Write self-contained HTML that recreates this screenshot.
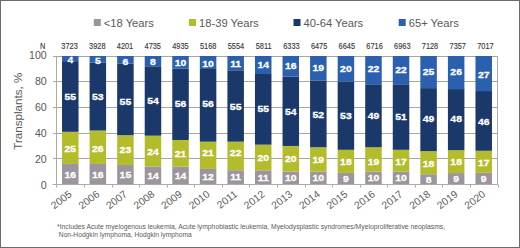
<!DOCTYPE html><html><head><meta charset="utf-8"><style>html,body{margin:0;padding:0;background:#fff;}svg{display:block;}text{font-family:"Liberation Sans",sans-serif;}</style></head><body>
<svg width="520" height="248" viewBox="0 0 520 248">
<rect x="0" y="0" width="520" height="248" fill="#fff"/>
<rect x="0.5" y="0.5" width="519" height="247" fill="none" stroke="#6b6b6b" stroke-width="1"/>
<rect x="93.8" y="19" width="7" height="7" fill="#9c959d"/>
<text x="103.8" y="26.7" font-size="11.2" fill="#595959">&lt;18 Years</text>
<rect x="189.0" y="19" width="7" height="7" fill="#b3bd2c"/>
<text x="199.0" y="26.7" font-size="11.2" fill="#595959">18-39 Years</text>
<rect x="293.5" y="19" width="7" height="7" fill="#1a386a"/>
<text x="303.5" y="26.7" font-size="11.2" fill="#595959">40-64 Years</text>
<rect x="398.7" y="19" width="7" height="7" fill="#2a60ad"/>
<text x="408.7" y="26.7" font-size="11.2" fill="#595959">65+ Years</text>
<line x1="56.5" x2="497.5" y1="158.5" y2="158.5" stroke="#a9a5a1" stroke-width="1"/>
<line x1="56.5" x2="497.5" y1="133.5" y2="133.5" stroke="#a9a5a1" stroke-width="1"/>
<line x1="56.5" x2="497.5" y1="107.5" y2="107.5" stroke="#a9a5a1" stroke-width="1"/>
<line x1="56.5" x2="497.5" y1="81.5" y2="81.5" stroke="#a9a5a1" stroke-width="1"/>
<line x1="56.5" x2="497.5" y1="56.5" y2="56.5" stroke="#a9a5a1" stroke-width="1"/>
<rect x="62.03" y="163.94" width="16.5" height="20.56" fill="#9c959d"/>
<rect x="62.03" y="131.81" width="16.5" height="32.12" fill="#b3bd2c"/>
<rect x="62.03" y="61.14" width="16.5" height="70.67" fill="#1a386a"/>
<rect x="62.03" y="56.00" width="16.5" height="5.14" fill="#2a60ad"/>
<rect x="89.59" y="163.94" width="16.5" height="20.56" fill="#9c959d"/>
<rect x="89.59" y="130.53" width="16.5" height="33.41" fill="#b3bd2c"/>
<rect x="89.59" y="62.43" width="16.5" height="68.10" fill="#1a386a"/>
<rect x="89.59" y="56.00" width="16.5" height="6.43" fill="#2a60ad"/>
<rect x="117.16" y="165.03" width="16.5" height="19.47" fill="#9c959d"/>
<rect x="117.16" y="135.18" width="16.5" height="29.85" fill="#b3bd2c"/>
<rect x="117.16" y="63.79" width="16.5" height="71.39" fill="#1a386a"/>
<rect x="117.16" y="56.00" width="16.5" height="7.79" fill="#2a60ad"/>
<rect x="144.72" y="166.51" width="16.5" height="17.99" fill="#9c959d"/>
<rect x="144.72" y="135.67" width="16.5" height="30.84" fill="#b3bd2c"/>
<rect x="144.72" y="66.28" width="16.5" height="69.39" fill="#1a386a"/>
<rect x="144.72" y="56.00" width="16.5" height="10.28" fill="#2a60ad"/>
<rect x="172.28" y="166.69" width="16.5" height="17.81" fill="#9c959d"/>
<rect x="172.28" y="139.97" width="16.5" height="26.72" fill="#b3bd2c"/>
<rect x="172.28" y="68.72" width="16.5" height="71.25" fill="#1a386a"/>
<rect x="172.28" y="56.00" width="16.5" height="12.72" fill="#2a60ad"/>
<rect x="199.84" y="168.92" width="16.5" height="15.58" fill="#9c959d"/>
<rect x="199.84" y="141.67" width="16.5" height="27.26" fill="#b3bd2c"/>
<rect x="199.84" y="68.98" width="16.5" height="72.69" fill="#1a386a"/>
<rect x="199.84" y="56.00" width="16.5" height="12.98" fill="#2a60ad"/>
<rect x="227.41" y="170.22" width="16.5" height="14.28" fill="#9c959d"/>
<rect x="227.41" y="141.67" width="16.5" height="28.56" fill="#b3bd2c"/>
<rect x="227.41" y="70.28" width="16.5" height="71.39" fill="#1a386a"/>
<rect x="227.41" y="56.00" width="16.5" height="14.28" fill="#2a60ad"/>
<rect x="254.97" y="170.37" width="16.5" height="14.13" fill="#9c959d"/>
<rect x="254.97" y="144.66" width="16.5" height="25.70" fill="#b3bd2c"/>
<rect x="254.97" y="73.99" width="16.5" height="70.67" fill="#1a386a"/>
<rect x="254.97" y="56.00" width="16.5" height="17.99" fill="#2a60ad"/>
<rect x="282.53" y="171.65" width="16.5" height="12.85" fill="#9c959d"/>
<rect x="282.53" y="145.95" width="16.5" height="25.70" fill="#b3bd2c"/>
<rect x="282.53" y="76.56" width="16.5" height="69.39" fill="#1a386a"/>
<rect x="282.53" y="56.00" width="16.5" height="20.56" fill="#2a60ad"/>
<rect x="310.09" y="171.65" width="16.5" height="12.85" fill="#9c959d"/>
<rect x="310.09" y="147.24" width="16.5" height="24.41" fill="#b3bd2c"/>
<rect x="310.09" y="80.41" width="16.5" height="66.82" fill="#1a386a"/>
<rect x="310.09" y="56.00" width="16.5" height="24.41" fill="#2a60ad"/>
<rect x="337.66" y="172.94" width="16.5" height="11.56" fill="#9c959d"/>
<rect x="337.66" y="149.81" width="16.5" height="23.13" fill="#b3bd2c"/>
<rect x="337.66" y="81.70" width="16.5" height="68.11" fill="#1a386a"/>
<rect x="337.66" y="56.00" width="16.5" height="25.70" fill="#2a60ad"/>
<rect x="365.22" y="171.65" width="16.5" height="12.85" fill="#9c959d"/>
<rect x="365.22" y="147.24" width="16.5" height="24.41" fill="#b3bd2c"/>
<rect x="365.22" y="84.27" width="16.5" height="62.97" fill="#1a386a"/>
<rect x="365.22" y="56.00" width="16.5" height="28.27" fill="#2a60ad"/>
<rect x="392.78" y="171.65" width="16.5" height="12.85" fill="#9c959d"/>
<rect x="392.78" y="149.81" width="16.5" height="21.84" fill="#b3bd2c"/>
<rect x="392.78" y="84.27" width="16.5" height="65.54" fill="#1a386a"/>
<rect x="392.78" y="56.00" width="16.5" height="28.27" fill="#2a60ad"/>
<rect x="420.34" y="174.22" width="16.5" height="10.28" fill="#9c959d"/>
<rect x="420.34" y="151.09" width="16.5" height="23.13" fill="#b3bd2c"/>
<rect x="420.34" y="88.12" width="16.5" height="62.97" fill="#1a386a"/>
<rect x="420.34" y="56.00" width="16.5" height="32.12" fill="#2a60ad"/>
<rect x="447.91" y="173.05" width="16.5" height="11.45" fill="#9c959d"/>
<rect x="447.91" y="150.15" width="16.5" height="22.90" fill="#b3bd2c"/>
<rect x="447.91" y="89.08" width="16.5" height="61.07" fill="#1a386a"/>
<rect x="447.91" y="56.00" width="16.5" height="33.08" fill="#2a60ad"/>
<rect x="475.47" y="172.82" width="16.5" height="11.68" fill="#9c959d"/>
<rect x="475.47" y="150.75" width="16.5" height="22.07" fill="#b3bd2c"/>
<rect x="475.47" y="91.05" width="16.5" height="59.71" fill="#1a386a"/>
<rect x="475.47" y="56.00" width="16.5" height="35.05" fill="#2a60ad"/>
<line x1="497.5" x2="497.5" y1="56.0" y2="184.5" stroke="#aeaaa7" stroke-width="1"/>
<line x1="52.5" x2="498.0" y1="184.5" y2="184.5" stroke="#aeaaa7" stroke-width="1"/>
<line x1="56.5" x2="56.5" y1="56.0" y2="187.5" stroke="#aeaaa7" stroke-width="1"/>
<line x1="53" x2="56.5" y1="184.5" y2="184.5" stroke="#aeaaa7" stroke-width="1"/>
<line x1="53" x2="56.5" y1="158.5" y2="158.5" stroke="#aeaaa7" stroke-width="1"/>
<line x1="53" x2="56.5" y1="133.5" y2="133.5" stroke="#aeaaa7" stroke-width="1"/>
<line x1="53" x2="56.5" y1="107.5" y2="107.5" stroke="#aeaaa7" stroke-width="1"/>
<line x1="53" x2="56.5" y1="81.5" y2="81.5" stroke="#aeaaa7" stroke-width="1"/>
<line x1="53" x2="56.5" y1="56.5" y2="56.5" stroke="#aeaaa7" stroke-width="1"/>
<line x1="84.5" x2="84.5" y1="184.5" y2="187.5" stroke="#aeaaa7" stroke-width="1"/>
<line x1="112.5" x2="112.5" y1="184.5" y2="187.5" stroke="#aeaaa7" stroke-width="1"/>
<line x1="139.5" x2="139.5" y1="184.5" y2="187.5" stroke="#aeaaa7" stroke-width="1"/>
<line x1="167.5" x2="167.5" y1="184.5" y2="187.5" stroke="#aeaaa7" stroke-width="1"/>
<line x1="194.5" x2="194.5" y1="184.5" y2="187.5" stroke="#aeaaa7" stroke-width="1"/>
<line x1="222.5" x2="222.5" y1="184.5" y2="187.5" stroke="#aeaaa7" stroke-width="1"/>
<line x1="249.5" x2="249.5" y1="184.5" y2="187.5" stroke="#aeaaa7" stroke-width="1"/>
<line x1="277.5" x2="277.5" y1="184.5" y2="187.5" stroke="#aeaaa7" stroke-width="1"/>
<line x1="305.5" x2="305.5" y1="184.5" y2="187.5" stroke="#aeaaa7" stroke-width="1"/>
<line x1="332.5" x2="332.5" y1="184.5" y2="187.5" stroke="#aeaaa7" stroke-width="1"/>
<line x1="360.5" x2="360.5" y1="184.5" y2="187.5" stroke="#aeaaa7" stroke-width="1"/>
<line x1="387.5" x2="387.5" y1="184.5" y2="187.5" stroke="#aeaaa7" stroke-width="1"/>
<line x1="415.5" x2="415.5" y1="184.5" y2="187.5" stroke="#aeaaa7" stroke-width="1"/>
<line x1="442.5" x2="442.5" y1="184.5" y2="187.5" stroke="#aeaaa7" stroke-width="1"/>
<line x1="470.5" x2="470.5" y1="184.5" y2="187.5" stroke="#aeaaa7" stroke-width="1"/>
<line x1="498.5" x2="498.5" y1="184.5" y2="187.5" stroke="#aeaaa7" stroke-width="1"/>
<text x="46.7" y="188.6" font-size="10.6" fill="#595959" text-anchor="end">0</text>
<text x="46.7" y="162.7" font-size="10.6" fill="#595959" text-anchor="end">20</text>
<text x="46.7" y="136.7" font-size="10.6" fill="#595959" text-anchor="end">40</text>
<text x="46.7" y="110.8" font-size="10.6" fill="#595959" text-anchor="end">60</text>
<text x="46.7" y="84.8" font-size="10.6" fill="#595959" text-anchor="end">80</text>
<text x="46.7" y="58.9" font-size="10.6" fill="#595959" text-anchor="end">100</text>
<text transform="translate(21.5,111.2) rotate(-90)" font-size="11.6" fill="#595959" text-anchor="middle">Transplants, %</text>
<text transform="translate(42.6,48.8) scale(0.77,1)" font-size="9.6" fill="#3a3a3a" stroke="#3a3a3a" stroke-width="0.15" text-anchor="middle">N</text>
<text transform="translate(69.55,48.8) scale(0.77,1)" font-size="9.6" fill="#3a3a3a" stroke="#3a3a3a" stroke-width="0.15" text-anchor="middle">3723</text>
<text transform="translate(97.28,48.8) scale(0.77,1)" font-size="9.6" fill="#3a3a3a" stroke="#3a3a3a" stroke-width="0.15" text-anchor="middle">3928</text>
<text transform="translate(125.00,48.8) scale(0.77,1)" font-size="9.6" fill="#3a3a3a" stroke="#3a3a3a" stroke-width="0.15" text-anchor="middle">4201</text>
<text transform="translate(152.73,48.8) scale(0.77,1)" font-size="9.6" fill="#3a3a3a" stroke="#3a3a3a" stroke-width="0.15" text-anchor="middle">4735</text>
<text transform="translate(180.46,48.8) scale(0.77,1)" font-size="9.6" fill="#3a3a3a" stroke="#3a3a3a" stroke-width="0.15" text-anchor="middle">4935</text>
<text transform="translate(208.19,48.8) scale(0.77,1)" font-size="9.6" fill="#3a3a3a" stroke="#3a3a3a" stroke-width="0.15" text-anchor="middle">5168</text>
<text transform="translate(235.91,48.8) scale(0.77,1)" font-size="9.6" fill="#3a3a3a" stroke="#3a3a3a" stroke-width="0.15" text-anchor="middle">5554</text>
<text transform="translate(263.64,48.8) scale(0.77,1)" font-size="9.6" fill="#3a3a3a" stroke="#3a3a3a" stroke-width="0.15" text-anchor="middle">5811</text>
<text transform="translate(291.37,48.8) scale(0.77,1)" font-size="9.6" fill="#3a3a3a" stroke="#3a3a3a" stroke-width="0.15" text-anchor="middle">6333</text>
<text transform="translate(319.09,48.8) scale(0.77,1)" font-size="9.6" fill="#3a3a3a" stroke="#3a3a3a" stroke-width="0.15" text-anchor="middle">6475</text>
<text transform="translate(346.82,48.8) scale(0.77,1)" font-size="9.6" fill="#3a3a3a" stroke="#3a3a3a" stroke-width="0.15" text-anchor="middle">6645</text>
<text transform="translate(374.55,48.8) scale(0.77,1)" font-size="9.6" fill="#3a3a3a" stroke="#3a3a3a" stroke-width="0.15" text-anchor="middle">6716</text>
<text transform="translate(402.27,48.8) scale(0.77,1)" font-size="9.6" fill="#3a3a3a" stroke="#3a3a3a" stroke-width="0.15" text-anchor="middle">6963</text>
<text transform="translate(430.00,48.8) scale(0.77,1)" font-size="9.6" fill="#3a3a3a" stroke="#3a3a3a" stroke-width="0.15" text-anchor="middle">7128</text>
<text transform="translate(457.73,48.8) scale(0.77,1)" font-size="9.6" fill="#3a3a3a" stroke="#3a3a3a" stroke-width="0.15" text-anchor="middle">7357</text>
<text transform="translate(485.46,48.8) scale(0.77,1)" font-size="9.6" fill="#3a3a3a" stroke="#3a3a3a" stroke-width="0.15" text-anchor="middle">7017</text>
<text transform="translate(70.28,177.82) scale(1.12,1)" font-size="9.3" font-weight="bold" fill="#fff" stroke="#fff" stroke-width="0.3" text-anchor="middle">16</text>
<text transform="translate(70.28,151.98) scale(1.12,1)" font-size="9.3" font-weight="bold" fill="#fff" stroke="#fff" stroke-width="0.3" text-anchor="middle">25</text>
<text transform="translate(70.28,100.08) scale(1.12,1)" font-size="9.3" font-weight="bold" fill="#fff" stroke="#fff" stroke-width="0.3" text-anchor="middle">55</text>
<text transform="translate(70.28,63.47) scale(1.12,1)" font-size="9.3" font-weight="bold" fill="#fff" stroke="#fff" stroke-width="0.3" text-anchor="middle">4</text>
<text transform="translate(97.84,177.82) scale(1.12,1)" font-size="9.3" font-weight="bold" fill="#fff" stroke="#fff" stroke-width="0.3" text-anchor="middle">16</text>
<text transform="translate(97.84,151.84) scale(1.12,1)" font-size="9.3" font-weight="bold" fill="#fff" stroke="#fff" stroke-width="0.3" text-anchor="middle">26</text>
<text transform="translate(97.84,100.08) scale(1.12,1)" font-size="9.3" font-weight="bold" fill="#fff" stroke="#fff" stroke-width="0.3" text-anchor="middle">53</text>
<text transform="translate(97.84,63.51) scale(1.12,1)" font-size="9.3" font-weight="bold" fill="#fff" stroke="#fff" stroke-width="0.3" text-anchor="middle">5</text>
<text transform="translate(125.41,178.37) scale(1.12,1)" font-size="9.3" font-weight="bold" fill="#fff" stroke="#fff" stroke-width="0.3" text-anchor="middle">15</text>
<text transform="translate(125.41,153.20) scale(1.12,1)" font-size="9.3" font-weight="bold" fill="#fff" stroke="#fff" stroke-width="0.3" text-anchor="middle">23</text>
<text transform="translate(125.41,104.98) scale(1.12,1)" font-size="9.3" font-weight="bold" fill="#fff" stroke="#fff" stroke-width="0.3" text-anchor="middle">55</text>
<text transform="translate(125.41,64.69) scale(1.12,1)" font-size="9.3" font-weight="bold" fill="#fff" stroke="#fff" stroke-width="0.3" text-anchor="middle">6</text>
<text transform="translate(152.97,179.10) scale(1.12,1)" font-size="9.3" font-weight="bold" fill="#fff" stroke="#fff" stroke-width="0.3" text-anchor="middle">14</text>
<text transform="translate(152.97,154.69) scale(1.12,1)" font-size="9.3" font-weight="bold" fill="#fff" stroke="#fff" stroke-width="0.3" text-anchor="middle">24</text>
<text transform="translate(152.97,104.07) scale(1.12,1)" font-size="9.3" font-weight="bold" fill="#fff" stroke="#fff" stroke-width="0.3" text-anchor="middle">54</text>
<text transform="translate(152.97,64.54) scale(1.12,1)" font-size="9.3" font-weight="bold" fill="#fff" stroke="#fff" stroke-width="0.3" text-anchor="middle">8</text>
<text transform="translate(180.53,178.69) scale(1.12,1)" font-size="9.3" font-weight="bold" fill="#fff" stroke="#fff" stroke-width="0.3" text-anchor="middle">14</text>
<text transform="translate(180.53,156.53) scale(1.12,1)" font-size="9.3" font-weight="bold" fill="#fff" stroke="#fff" stroke-width="0.3" text-anchor="middle">21</text>
<text transform="translate(180.53,106.55) scale(1.12,1)" font-size="9.3" font-weight="bold" fill="#fff" stroke="#fff" stroke-width="0.3" text-anchor="middle">56</text>
<text transform="translate(180.53,65.96) scale(1.12,1)" font-size="9.3" font-weight="bold" fill="#fff" stroke="#fff" stroke-width="0.3" text-anchor="middle">10</text>
<text transform="translate(208.09,179.81) scale(1.12,1)" font-size="9.3" font-weight="bold" fill="#fff" stroke="#fff" stroke-width="0.3" text-anchor="middle">12</text>
<text transform="translate(208.09,156.00) scale(1.12,1)" font-size="9.3" font-weight="bold" fill="#fff" stroke="#fff" stroke-width="0.3" text-anchor="middle">21</text>
<text transform="translate(208.09,106.62) scale(1.12,1)" font-size="9.3" font-weight="bold" fill="#fff" stroke="#fff" stroke-width="0.3" text-anchor="middle">56</text>
<text transform="translate(208.09,66.99) scale(1.12,1)" font-size="9.3" font-weight="bold" fill="#fff" stroke="#fff" stroke-width="0.3" text-anchor="middle">10</text>
<text transform="translate(235.66,180.46) scale(1.12,1)" font-size="9.3" font-weight="bold" fill="#fff" stroke="#fff" stroke-width="0.3" text-anchor="middle">11</text>
<text transform="translate(235.66,156.14) scale(1.12,1)" font-size="9.3" font-weight="bold" fill="#fff" stroke="#fff" stroke-width="0.3" text-anchor="middle">22</text>
<text transform="translate(235.66,109.57) scale(1.12,1)" font-size="9.3" font-weight="bold" fill="#fff" stroke="#fff" stroke-width="0.3" text-anchor="middle">55</text>
<text transform="translate(235.66,66.74) scale(1.12,1)" font-size="9.3" font-weight="bold" fill="#fff" stroke="#fff" stroke-width="0.3" text-anchor="middle">11</text>
<text transform="translate(263.22,180.53) scale(1.12,1)" font-size="9.3" font-weight="bold" fill="#fff" stroke="#fff" stroke-width="0.3" text-anchor="middle">11</text>
<text transform="translate(263.22,161.11) scale(1.12,1)" font-size="9.3" font-weight="bold" fill="#fff" stroke="#fff" stroke-width="0.3" text-anchor="middle">20</text>
<text transform="translate(263.22,112.23) scale(1.12,1)" font-size="9.3" font-weight="bold" fill="#fff" stroke="#fff" stroke-width="0.3" text-anchor="middle">55</text>
<text transform="translate(263.22,68.09) scale(1.12,1)" font-size="9.3" font-weight="bold" fill="#fff" stroke="#fff" stroke-width="0.3" text-anchor="middle">14</text>
<text transform="translate(290.78,180.67) scale(1.12,1)" font-size="9.3" font-weight="bold" fill="#fff" stroke="#fff" stroke-width="0.3" text-anchor="middle">10</text>
<text transform="translate(290.78,162.00) scale(1.12,1)" font-size="9.3" font-weight="bold" fill="#fff" stroke="#fff" stroke-width="0.3" text-anchor="middle">20</text>
<text transform="translate(290.78,115.26) scale(1.12,1)" font-size="9.3" font-weight="bold" fill="#fff" stroke="#fff" stroke-width="0.3" text-anchor="middle">54</text>
<text transform="translate(290.78,68.68) scale(1.12,1)" font-size="9.3" font-weight="bold" fill="#fff" stroke="#fff" stroke-width="0.3" text-anchor="middle">16</text>
<text transform="translate(318.34,180.67) scale(1.12,1)" font-size="9.3" font-weight="bold" fill="#fff" stroke="#fff" stroke-width="0.3" text-anchor="middle">10</text>
<text transform="translate(318.34,163.04) scale(1.12,1)" font-size="9.3" font-weight="bold" fill="#fff" stroke="#fff" stroke-width="0.3" text-anchor="middle">19</text>
<text transform="translate(318.34,118.32) scale(1.12,1)" font-size="9.3" font-weight="bold" fill="#fff" stroke="#fff" stroke-width="0.3" text-anchor="middle">52</text>
<text transform="translate(318.34,71.11) scale(1.12,1)" font-size="9.3" font-weight="bold" fill="#fff" stroke="#fff" stroke-width="0.3" text-anchor="middle">19</text>
<text transform="translate(345.91,181.62) scale(1.12,1)" font-size="9.3" font-weight="bold" fill="#fff" stroke="#fff" stroke-width="0.3" text-anchor="middle">9</text>
<text transform="translate(345.91,164.97) scale(1.12,1)" font-size="9.3" font-weight="bold" fill="#fff" stroke="#fff" stroke-width="0.3" text-anchor="middle">18</text>
<text transform="translate(345.91,119.35) scale(1.12,1)" font-size="9.3" font-weight="bold" fill="#fff" stroke="#fff" stroke-width="0.3" text-anchor="middle">53</text>
<text transform="translate(345.91,72.45) scale(1.12,1)" font-size="9.3" font-weight="bold" fill="#fff" stroke="#fff" stroke-width="0.3" text-anchor="middle">20</text>
<text transform="translate(373.47,180.97) scale(1.12,1)" font-size="9.3" font-weight="bold" fill="#fff" stroke="#fff" stroke-width="0.3" text-anchor="middle">10</text>
<text transform="translate(373.47,164.74) scale(1.12,1)" font-size="9.3" font-weight="bold" fill="#fff" stroke="#fff" stroke-width="0.3" text-anchor="middle">19</text>
<text transform="translate(373.47,119.35) scale(1.12,1)" font-size="9.3" font-weight="bold" fill="#fff" stroke="#fff" stroke-width="0.3" text-anchor="middle">49</text>
<text transform="translate(373.47,72.14) scale(1.12,1)" font-size="9.3" font-weight="bold" fill="#fff" stroke="#fff" stroke-width="0.3" text-anchor="middle">22</text>
<text transform="translate(401.03,180.97) scale(1.12,1)" font-size="9.3" font-weight="bold" fill="#fff" stroke="#fff" stroke-width="0.3" text-anchor="middle">10</text>
<text transform="translate(401.03,165.03) scale(1.12,1)" font-size="9.3" font-weight="bold" fill="#fff" stroke="#fff" stroke-width="0.3" text-anchor="middle">17</text>
<text transform="translate(401.03,119.94) scale(1.12,1)" font-size="9.3" font-weight="bold" fill="#fff" stroke="#fff" stroke-width="0.3" text-anchor="middle">51</text>
<text transform="translate(401.03,73.33) scale(1.12,1)" font-size="9.3" font-weight="bold" fill="#fff" stroke="#fff" stroke-width="0.3" text-anchor="middle">22</text>
<text transform="translate(428.59,182.96) scale(1.12,1)" font-size="9.3" font-weight="bold" fill="#fff" stroke="#fff" stroke-width="0.3" text-anchor="middle">8</text>
<text transform="translate(428.59,166.95) scale(1.12,1)" font-size="9.3" font-weight="bold" fill="#fff" stroke="#fff" stroke-width="0.3" text-anchor="middle">18</text>
<text transform="translate(428.59,122.31) scale(1.12,1)" font-size="9.3" font-weight="bold" fill="#fff" stroke="#fff" stroke-width="0.3" text-anchor="middle">49</text>
<text transform="translate(428.59,75.26) scale(1.12,1)" font-size="9.3" font-weight="bold" fill="#fff" stroke="#fff" stroke-width="0.3" text-anchor="middle">25</text>
<text transform="translate(456.16,182.37) scale(1.12,1)" font-size="9.3" font-weight="bold" fill="#fff" stroke="#fff" stroke-width="0.3" text-anchor="middle">9</text>
<text transform="translate(456.16,165.40) scale(1.12,1)" font-size="9.3" font-weight="bold" fill="#fff" stroke="#fff" stroke-width="0.3" text-anchor="middle">18</text>
<text transform="translate(456.16,122.31) scale(1.12,1)" font-size="9.3" font-weight="bold" fill="#fff" stroke="#fff" stroke-width="0.3" text-anchor="middle">48</text>
<text transform="translate(456.16,74.54) scale(1.12,1)" font-size="9.3" font-weight="bold" fill="#fff" stroke="#fff" stroke-width="0.3" text-anchor="middle">26</text>
<text transform="translate(483.72,182.26) scale(1.12,1)" font-size="9.3" font-weight="bold" fill="#fff" stroke="#fff" stroke-width="0.3" text-anchor="middle">9</text>
<text transform="translate(483.72,165.59) scale(1.12,1)" font-size="9.3" font-weight="bold" fill="#fff" stroke="#fff" stroke-width="0.3" text-anchor="middle">17</text>
<text transform="translate(483.72,125.40) scale(1.12,1)" font-size="9.3" font-weight="bold" fill="#fff" stroke="#fff" stroke-width="0.3" text-anchor="middle">46</text>
<text transform="translate(483.72,78.32) scale(1.12,1)" font-size="9.3" font-weight="bold" fill="#fff" stroke="#fff" stroke-width="0.3" text-anchor="middle">27</text>
<text transform="translate(72.68,195.6) rotate(-37)" font-size="10.3" fill="#595959" text-anchor="end">2005</text>
<text transform="translate(100.24,195.6) rotate(-37)" font-size="10.3" fill="#595959" text-anchor="end">2006</text>
<text transform="translate(127.81,195.6) rotate(-37)" font-size="10.3" fill="#595959" text-anchor="end">2007</text>
<text transform="translate(155.37,195.6) rotate(-37)" font-size="10.3" fill="#595959" text-anchor="end">2008</text>
<text transform="translate(182.93,195.6) rotate(-37)" font-size="10.3" fill="#595959" text-anchor="end">2009</text>
<text transform="translate(210.49,195.6) rotate(-37)" font-size="10.3" fill="#595959" text-anchor="end">2010</text>
<text transform="translate(238.06,195.6) rotate(-37)" font-size="10.3" fill="#595959" text-anchor="end">2011</text>
<text transform="translate(265.62,195.6) rotate(-37)" font-size="10.3" fill="#595959" text-anchor="end">2012</text>
<text transform="translate(293.18,195.6) rotate(-37)" font-size="10.3" fill="#595959" text-anchor="end">2013</text>
<text transform="translate(320.74,195.6) rotate(-37)" font-size="10.3" fill="#595959" text-anchor="end">2014</text>
<text transform="translate(348.31,195.6) rotate(-37)" font-size="10.3" fill="#595959" text-anchor="end">2015</text>
<text transform="translate(375.87,195.6) rotate(-37)" font-size="10.3" fill="#595959" text-anchor="end">2016</text>
<text transform="translate(403.43,195.6) rotate(-37)" font-size="10.3" fill="#595959" text-anchor="end">2017</text>
<text transform="translate(430.99,195.6) rotate(-37)" font-size="10.3" fill="#595959" text-anchor="end">2018</text>
<text transform="translate(458.56,195.6) rotate(-37)" font-size="10.3" fill="#595959" text-anchor="end">2019</text>
<text transform="translate(486.12,195.6) rotate(-37)" font-size="10.3" fill="#595959" text-anchor="end">2020</text>
<text x="57.1" y="228.8" font-size="6.7" fill="#595959" textLength="388" lengthAdjust="spacingAndGlyphs">*Includes Acute myelogenous leukemia, Acute lymphoblastic leukemia, Myelodysplastic syndromes/Myeloproliferative neoplasms,</text>
<text x="58.8" y="236.6" font-size="6.7" fill="#595959" textLength="133" lengthAdjust="spacingAndGlyphs">Non-Hodgkin lymphoma, Hodgkin lymphoma</text>
</svg></body></html>
